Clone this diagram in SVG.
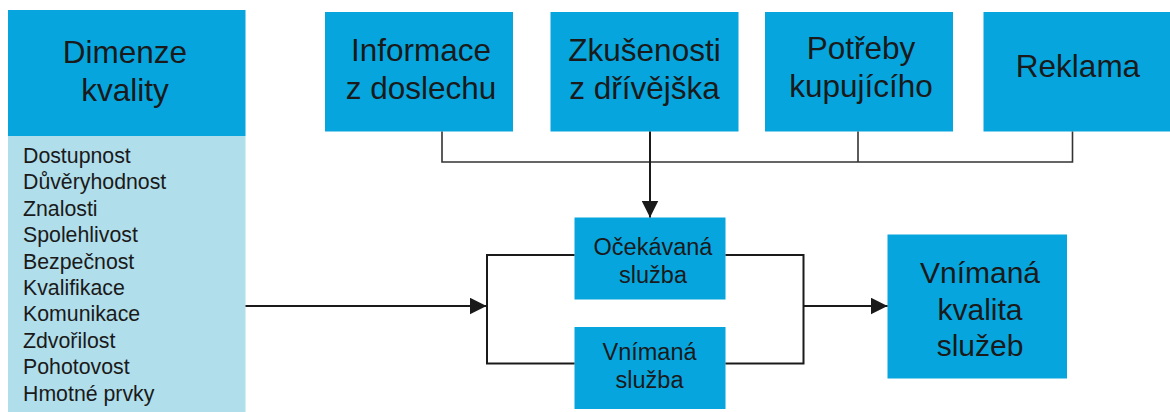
<svg xmlns="http://www.w3.org/2000/svg" width="1170" height="412" viewBox="0 0 1170 412">
<style>
.box{fill:#06A5DE;}
.light{fill:#B0DEEA;}
.t{font-family:"Liberation Sans",Arial,sans-serif;fill:#1a1a1a;text-anchor:middle;}
.big{font-size:31.5px;}
.mid{font-size:23.5px;}
.rb{font-size:30px;}
.lst{font-family:"Liberation Sans",Arial,sans-serif;fill:#1a1a1a;font-size:21.3px;}
.ln{fill:none;stroke:#1a1a1a;stroke-width:2;}
.thin{fill:none;stroke:#333;stroke-width:1.6;}
</style>
<defs>
<marker id="ahb" markerWidth="17" markerHeight="17" refX="17" refY="8.5" orient="auto" markerUnits="userSpaceOnUse" viewBox="0 0 17 17">
<path d="M0,0 L17,8.5 L0,17 Z" fill="#1a1a1a"/>
</marker>
</defs>
<rect width="1170" height="412" fill="#fff"/>
<g id="dimenze">
<rect class="box" x="8" y="10" width="237.5" height="126"/>
<rect class="light" x="8" y="136" width="237.5" height="276"/>
<text class="t big" x="125" y="63">Dimenze</text>
<text class="t big" x="125" y="101">kvality</text>
<text class="lst" x="23" y="163">Dostupnost</text>
<text class="lst" x="23" y="189.4">Důvěryhodnost</text>
<text class="lst" x="23" y="215.8">Znalosti</text>
<text class="lst" x="23" y="242.2">Spolehlivost</text>
<text class="lst" x="23" y="268.6">Bezpečnost</text>
<text class="lst" x="23" y="295">Kvalifikace</text>
<text class="lst" x="23" y="321.4">Komunikace</text>
<text class="lst" x="23" y="347.8">Zdvořilost</text>
<text class="lst" x="23" y="374.2">Pohotovost</text>
<text class="lst" x="23" y="400.6">Hmotné prvky</text>
</g>
<g id="informace">
<rect class="box" x="325" y="12" width="188" height="119.5"/>
<text class="t big" x="421" y="60.5">Informace</text>
<text class="t big" x="421" y="99">z doslechu</text>
</g>
<g id="zkusenosti">
<rect class="box" x="550.5" y="12" width="188" height="119.5"/>
<text class="t big" x="644.5" y="60.5">Zkušenosti</text>
<text class="t big" x="644.5" y="99">z dřívějška</text>
</g>
<g id="potreby">
<rect class="box" x="765" y="12" width="188" height="119.5"/>
<text class="t big" x="861" y="58.5">Potřeby</text>
<text class="t big" x="861" y="96.5">kupujícího</text>
</g>
<g id="reklama">
<rect class="box" x="983.5" y="12" width="186.5" height="119.5"/>
<text class="t big" x="1078" y="76.5">Reklama</text>
</g>
<g id="ocekavana">
<rect class="box" x="574.5" y="217.5" width="151" height="82"/>
<text class="t mid" x="653" y="255">Očekávaná</text>
<text class="t mid" x="653" y="282.5">služba</text>
</g>
<g id="vnimana">
<rect class="box" x="574.5" y="327" width="151" height="82"/>
<text class="t mid" x="649.5" y="360">Vnímaná</text>
<text class="t mid" x="649.5" y="388">služba</text>
</g>
<g id="kvalita">
<rect class="box" x="887.5" y="234.5" width="179.5" height="144"/>
<text class="t rb" x="980" y="283">Vnímaná</text>
<text class="t rb" x="980" y="320">kvalita</text>
<text class="t rb" x="980" y="356">služeb</text>
</g>
<g id="connectors">
<path class="thin" d="M442,131.5 V162 H1072.5 V131.5"/>
<path class="thin" d="M858,131.5 V162"/>
<path class="ln" d="M650,131.5 V217.5" marker-end="url(#ahb)"/>
<path class="ln" d="M245.5,306 H486.5" marker-end="url(#ahb)"/>
<path class="ln" d="M574.5,255 H487 V363.5 H574.5"/>
<path class="ln" d="M725.5,255 H803.5 V363.5 H725.5"/>
<path class="ln" d="M803.5,306 H887.5" marker-end="url(#ahb)"/>
</g>
</svg>
